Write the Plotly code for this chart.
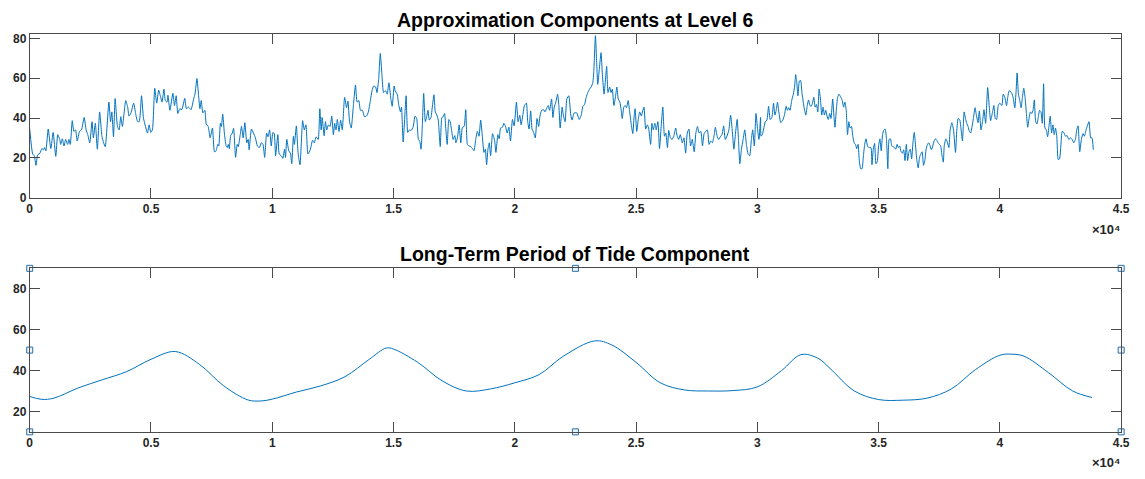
import plotly.graph_objects as go

# ---------------- Top series: approximation components (level 6) ----------------
seg1_x = [0, 122, 190, 258, 326, 422, 503, 571, 612, 666, 762, 870, 966, 1074, 1156, 1238, 1278, 1346, 1414, 1482,
          1564, 1618, 1673, 1754, 1822, 1890, 1958, 2054, 2135, 2244, 2326, 2394, 2475, 2570, 2625, 2706, 2788, 2883,
          2978, 3046, 3114, 3264, 3332, 3386, 3454, 3522, 3618, 3686, 3754, 3822, 3958, 4039, 4094, 4175, 4284, 4366,
          4447, 4515, 4610, 4692, 4774, 4855, 4923, 4991, 5059, 5154, 5236, 5318, 5399, 5454, 5535, 5590, 5658, 5698,
          5780, 5902, 5970, 6038, 6106, 6188, 6270, 6392, 6460, 6542, 6650, 6759, 6814, 6895, 6963, 7018, 7072, 7140,
          7222, 7276, 7358, 7439]
seg1_y = [34.5, 22.0, 21.1, 16.3, 21.5, 22.4, 24.7, 24.1, 25.2, 23.6, 34.5, 24.7, 32.8, 20.8, 31.7, 29.3, 26.8, 29.6, 26.0, 29.3,
          26.8, 29.3, 26.8, 38.7, 33.3, 34.1, 28.5, 33.3, 34.1, 40.3, 34.1, 31.7, 27.6, 38.2, 30.1, 37.4, 24.4, 43.1,
          30.9, 27.6, 25.7, 48.0, 38.2, 43.1, 30.6, 49.8, 35.8, 34.1, 40.7, 35.8, 48.8, 45.5, 41.0, 42.6, 47.5, 42.3,
          38.2, 38.2, 51.2, 39.8, 35.8, 32.5, 36.6, 32.8, 34.1, 55.0, 47.5, 54.0, 50.4, 48.0, 54.5, 48.8, 48.0, 51.5,
          43.9, 52.4, 46.3, 51.2, 42.3, 44.7, 44.2, 49.9, 44.7, 45.5, 44.2, 49.6, 52.0, 59.8, 51.2, 44.7, 48.8, 42.6,
          43.9, 37.1, 35.8, 30.1]

seg2_x = [7535, 7617, 7685, 7753, 7794, 7862, 7903, 7957, 8025, 8093, 8148, 8189, 8229, 8284, 8352, 8406, 8488, 8556,
          8597, 8679, 8731, 8801, 8870, 8951, 9006, 9047, 9142, 9224, 9305, 9387, 9469, 9551, 9619, 9687, 9768, 9823,
          9891, 9959, 10027, 10082, 10136, 10232, 10286, 10368, 10436, 10504, 10545, 10599, 10681, 10749, 10804, 10872,
          10913, 10994, 11062, 11144, 11253, 11321, 11389, 11471, 11566, 11662, 11730, 11811, 11893, 11961, 12016,
          12057, 12138, 12193, 12247, 12315, 12384, 12452, 12520, 12574, 12629, 12683, 12751, 12819, 12887, 12983,
          13065, 13119, 13187, 13255, 13351, 13432, 13500, 13568, 13637, 13718, 13800, 13882, 13963, 14045, 14113,
          14181, 14263, 14318, 14386, 14454, 14522, 14590, 14672, 14740, 14808, 14890, 14944, 15026]
seg2_y = [35.0, 23.1, 23.6, 26.8, 26.0, 37.4, 35.8, 42.0, 32.5, 26.3, 25.2, 26.8, 24.7, 31.2, 32.5, 34.8, 20.3, 26.8,
          25.7, 31.7, 35.8, 30.1, 37.7, 27.6, 29.3, 24.1, 34.5, 32.5, 30.1, 26.0, 25.2, 27.6, 26.8, 20.3, 32.5, 30.6,
          34.1, 26.0, 32.8, 32.2, 21.1, 31.7, 22.0, 21.1, 19.8, 24.4, 20.3, 29.3, 23.6, 22.4, 17.1, 30.9,
          26.8, 36.1, 22.8, 16.6, 38.7, 34.1, 36.6, 22.0, 24.1, 28.9, 27.6, 30.6, 29.3, 44.7, 34.1,
          40.3, 31.2, 38.2, 34.1, 36.6, 35.8, 41.0, 31.7, 37.4, 34.1, 39.3, 33.3, 39.0, 34.1, 50.4,
          45.2, 48.5, 38.2, 35.0, 47.2, 56.6, 48.0, 48.8, 43.9, 43.9, 40.7, 41.0, 43.1, 48.8, 53.7,
          56.1, 55.6, 52.8, 59.3, 72.4, 61.8, 52.8, 53.7, 52.0, 57.7, 49.6, 45.9, 56.1]

seg3_x = [15068, 15150, 15219, 15287, 15328, 15396, 15478, 15519, 15587, 15656, 15724, 15806, 15888, 15956, 16025,
          16079, 16134, 16188, 16243, 16311, 16380, 16421, 16475, 16544, 16598, 16667, 16721, 16789, 16844, 16926,
          16994, 17049, 17104, 17158, 17213, 17281, 17336, 17391, 17459, 17527, 17568, 17636, 17705, 17773, 17841,
          17910, 17978, 18046, 18114, 18183, 18251, 18319, 18388, 18456, 18524, 18593, 18661, 18729, 18784, 18838,
          18893, 18948, 19002, 19084, 19166, 19221, 19303, 19358, 19412, 19494, 19549, 19617, 19685, 19754, 19822,
          19904, 19972, 20068, 20136, 20204, 20259, 20341, 20396, 20478, 20532, 20587, 20655, 20710, 20778, 20846,
          20915, 20983, 21038, 21106, 21188, 21243, 21325, 21379, 21434, 21516, 21570, 21625, 21693, 21762, 21816,
          21871, 21953, 22008, 22076, 22144, 22226, 22308, 22363, 22445, 22554, 22622]
seg3_y = [53.7, 52.0, 46.3, 43.1, 45.5, 28.0, 43.9, 51.2, 32.8, 34.1, 33.8, 35.4, 41.0, 39.8, 29.3,
          28.5, 24.4, 36.6, 52.4, 38.2, 41.5, 43.9, 39.0, 40.3, 45.5, 51.7, 43.1, 41.5, 39.0, 25.7,
          40.3, 40.7, 42.3, 34.1, 26.8, 39.3, 38.2, 34.1, 29.3, 31.2, 27.6, 30.1, 36.6, 27.6, 35.4,
          35.8, 44.2, 26.8, 26.0, 25.7, 24.7, 23.6, 29.3, 33.3, 30.9, 39.0, 30.9, 22.8, 24.4, 16.6,
          24.4, 27.6, 21.1, 32.2, 28.9, 22.8, 31.7, 29.6, 35.0, 35.4, 37.4, 35.8, 32.5, 35.4, 28.5,
          39.3, 36.1, 48.0, 38.2, 41.5, 36.6, 42.3, 46.3, 47.5, 38.2, 34.5, 43.6, 34.5, 32.8, 30.1,
          39.8, 35.8, 41.0, 43.9, 44.2, 43.1, 45.2, 46.3, 43.9, 49.6, 40.3, 45.5, 48.0, 52.0, 46.3,
          35.0, 45.5, 41.0, 38.2, 49.6, 51.2, 41.5, 39.0, 42.6, 42.6, 40.3]

seg4_x = [22657, 22739, 22807, 22875, 22943, 23011, 23080, 23148, 23216, 23257, 23325, 23379, 23420, 23488, 23556,
          23611, 23679, 23733, 23788, 23842, 23910, 23965, 24019, 24087, 24156, 24210, 24264, 24333, 24387, 24428,
          24496, 24551, 24605, 24673, 24728, 24796, 24864, 24918, 24959, 25027, 25095, 25150, 25218, 25272, 25327,
          25395, 25463, 25518, 25599, 25654, 25708, 25776, 25831, 25899, 25967, 26035, 26103, 26171, 26226, 26294,
          26348, 26416, 26485, 26553, 26634, 26689, 26757, 26825, 26907, 26975, 27043, 27111, 27179, 27247, 27315,
          27397, 27465, 27533, 27601, 27670, 27738, 27806, 27874, 27942, 28010, 28078, 28146, 28215, 28269, 28337,
          28405, 28473, 28541, 28610, 28678, 28746, 28828, 28896, 28964, 29032, 29100, 29168, 29222, 29277, 29345,
          29413, 29481, 29549, 29617, 29685, 29754, 29808, 29876, 29944, 30012, 30066, 30135]
seg4_y = [39.3, 41.5, 45.9, 46.8, 50.4, 52.8, 54.5, 55.6, 57.7, 63.4, 81.3, 66.7, 56.9, 65.0, 72.8,
          61.8, 52.0, 58.5, 65.9, 52.8, 55.6, 52.8, 54.5, 46.3, 51.2, 55.6, 49.6, 48.0, 43.9, 39.8,
          45.5, 46.3, 45.2, 48.8, 43.9, 37.4, 32.2, 40.7, 44.7, 33.3, 39.8, 43.1, 41.0, 43.6, 45.5,
          34.5, 36.6, 35.0, 26.8, 37.4, 34.1, 37.4, 34.1, 38.2, 24.7, 35.8, 45.5, 30.9, 32.5, 25.2,
          33.8, 30.1, 29.3, 30.9, 35.0, 31.2, 29.3, 31.7, 27.6, 30.1, 22.4, 32.5, 34.5, 26.0, 29.3,
          23.1, 32.5, 35.8, 32.5, 33.3, 26.0, 32.2, 33.3, 34.1, 26.8, 28.5, 27.6, 31.2, 35.4, 31.2,
          29.3, 30.6, 31.7, 36.1, 29.3, 30.9, 34.1, 41.5, 34.1, 24.4, 32.5, 39.3, 29.3, 17.1, 24.4,
          29.3, 34.1, 26.8, 22.0, 21.1, 29.3, 34.1, 26.0, 42.3, 34.1, 29.3, 40.3]

seg5_x = [30150, 30204, 30259, 30327, 30395, 30463, 30531, 30599, 30667, 30722, 30776, 30831, 30885, 30967, 31049,
          31117, 31185, 31239, 31294, 31348, 31416, 31485, 31539, 31580, 31621, 31675, 31730, 31784, 31839, 31893,
          31948, 32002, 32057, 32111, 32166, 32220, 32275, 32329, 32384, 32438, 32492, 32547, 32601, 32656, 32710,
          32765, 32819, 32874, 32928, 32983, 33037, 33105, 33160, 33201, 33255, 33310, 33364, 33432, 33500, 33555,
          33609, 33664, 33718, 33773, 33827, 33882, 33936, 33991, 34045, 34100, 34154, 34209, 34263, 34318, 34372,
          34427, 34481, 34549, 34617, 34685, 34726, 34780, 34835, 34890, 34944, 34999, 35053, 35108, 35162, 35216,
          35271, 35325, 35380, 35434, 35489, 35543, 35598, 35652, 35707, 35761, 35816, 35870, 35925, 35979, 36034,
          36088, 36143, 36197, 36252, 36306, 36361, 36415, 36470, 36524, 36578, 36633, 36687, 36742, 36796, 36851,
          36905, 36960, 37014, 37069, 37123, 37178, 37232, 37287, 37341, 37396, 37450, 37505, 37559, 37614, 37668]
seg5_y = [30.9, 31.7, 34.5, 38.2, 39.0, 45.9, 39.3, 40.3, 47.5, 41.5, 43.9, 48.0, 43.1, 37.7, 39.0,
          41.5, 45.9, 43.9, 45.2, 43.9, 48.8, 52.0, 56.1, 61.8, 58.5, 51.2, 58.5, 58.9, 52.8, 48.0,
          43.9, 41.5, 46.3, 49.1, 46.3, 45.9, 47.5, 50.4, 45.5, 46.8, 43.1, 54.5, 49.6, 41.5, 45.5,
          41.5, 43.9, 41.0, 39.3, 42.3, 39.8, 49.6, 40.7, 35.4, 43.9, 50.4, 52.0, 50.7, 48.8, 45.5,
          48.0, 43.9, 31.7, 38.2, 35.0, 35.8, 30.9, 27.6, 26.8, 24.7, 26.8, 17.9, 14.6, 14.6, 21.1,
          26.8, 29.6, 25.7, 25.2, 25.2, 16.6, 24.4, 27.3, 17.1, 18.2, 26.0, 29.6, 23.6, 31.7, 34.1,
          34.5, 29.3, 14.6, 29.3, 29.6, 26.0, 25.7, 25.2, 24.4, 26.8, 25.2, 26.0, 23.1, 22.4, 24.1,
          18.7, 26.8, 18.7, 23.1, 24.4, 19.5, 27.6, 32.8, 26.0, 18.7, 15.0, 20.3, 22.0, 23.1, 16.3,
          18.7, 24.4, 26.8, 27.6, 26.0, 24.1, 26.0, 28.5, 29.6, 28.9, 27.6, 26.8, 26.0, 21.1, 17.9]

seg6_x = [37705, 37773, 37842, 37896, 37951, 38019, 38088, 38170, 38225, 38279, 38347, 38402, 38457, 38525, 38580,
          38634, 38689, 38743, 38798, 38853, 38907, 38976, 39030, 39098, 39153, 39221, 39290, 39344, 39413, 39495,
          39563, 39618, 39686, 39754, 39809, 39863, 39932, 40000, 40082, 40137, 40205, 40273, 40328, 40382, 40437,
          40492, 40546, 40615, 40669, 40710, 40765, 40820, 40874, 40929, 40984, 41038, 41093, 41147, 41202, 41257,
          41311, 41366, 41421, 41475, 41530, 41585, 41639, 41694, 41748, 41803, 41858, 41912, 41967, 42022, 42076,
          42131, 42186, 42240, 42295, 42350, 42404, 42459, 42513, 42568, 42636, 42705, 42773, 42841, 42910, 42978,
          43046, 43114, 43169, 43224, 43292, 43360, 43429, 43483, 43552, 43620, 43675, 43743, 43797, 43852]
seg6_y = [26.0, 29.6, 27.6, 25.2, 34.1, 37.7, 34.1, 22.8, 34.1, 39.8, 39.0, 34.1, 28.5, 43.1, 39.8,
          37.4, 35.8, 33.3, 32.5, 35.8, 39.8, 45.2, 41.5, 37.7, 43.6, 34.1, 38.7, 44.2, 37.4, 55.3,
          45.5, 38.7, 42.3, 46.3, 39.8, 39.3, 46.3, 47.5, 46.3, 52.0, 50.4, 46.3, 50.7, 53.7, 53.3,
          52.4, 50.4, 45.2, 53.7, 62.6, 52.0, 48.8, 45.2, 50.4, 55.0, 50.4, 42.3, 35.4, 39.8, 43.1,
          42.3, 43.9, 49.1, 38.2, 37.1, 40.7, 43.9, 43.1, 37.4, 57.2, 35.0, 34.1, 30.6, 35.8, 41.0,
          32.5, 36.6, 31.7, 35.0, 30.1, 19.2, 19.5, 26.0, 33.3, 32.8, 30.9, 31.2, 29.3, 30.1, 29.3,
          27.6, 29.3, 34.1, 36.1, 23.1, 29.3, 32.2, 30.9, 34.1, 36.6, 38.2, 30.1, 30.1, 24.1]

# ---------------- Bottom series: long-term tide component ----------------
tide_x = [0, 500, 1000, 2000, 3000, 4000, 5000, 6000, 7000, 8000, 9000, 9500, 10000, 11000, 12000, 13000, 14000,
          14700, 15000, 16000, 17000, 18000, 19000, 20000, 21000, 22000, 23300, 24000, 25000, 26000, 27000, 28000,
          29000, 30000, 31000, 31800, 32500, 33000, 34000, 35000, 36000, 37000, 38000, 39000, 40000, 40500, 41000,
          42000, 43000, 43800]
tide_y = [27.3, 25.9, 26.5, 31.5, 35.5, 39.5, 45.5, 49.3, 43.0, 32.5, 25.6, 25.1, 26.0, 29.5, 32.5, 37.0, 45.5,
          51.0, 50.5, 44.0, 35.0, 30.0, 31.0, 34.0, 38.0, 47.0, 54.5, 52.5, 44.0, 34.0, 30.5, 30.0,
          30.2, 32.0, 40.0, 47.8, 46.0, 41.0, 30.0, 25.8, 25.5, 26.5, 31.0, 40.5, 47.5, 48.0, 47.0,
          39.0, 30.0, 26.8]

# selection handles on the lower axes
handle_x = [0, 0, 0, 22500, 22500, 45000, 45000, 45000]
handle_y = [10, 50, 90, 10, 90, 10, 50, 90]

x_ticks = [0, 5000, 10000, 15000, 20000, 25000, 30000, 35000, 40000, 45000]
x_labels = ["0", "0.5", "1", "1.5", "2", "2.5", "3", "3.5", "4", "4.5"]
top_yticks = [0, 20, 40, 60, 80]
bot_yticks = [20, 40, 60, 80]

top_x = seg1_x + seg2_x + seg3_x + seg4_x + seg5_x + seg6_x
top_y = seg1_y + seg2_y + seg3_y + seg4_y + seg5_y + seg6_y
assert len(top_x) == len(top_y), (len(top_x), len(top_y))

W, H = 1145, 479
LINE = '#0072BD'
AX = '#4a4a4a'
TXT = '#262626'
FONT = 'Liberation Sans, Arial, sans-serif'

fig = go.Figure()
fig.add_trace(go.Scatter(x=top_x, y=top_y, mode='lines',
                         line=dict(color=LINE, width=1, shape='spline', smoothing=0.5),
                         xaxis='x', yaxis='y', hoverinfo='skip'))
fig.add_trace(go.Scatter(x=tide_x, y=tide_y, mode='lines',
                         line=dict(color=LINE, width=1, shape='spline', smoothing=1.0),
                         xaxis='x2', yaxis='y2', hoverinfo='skip'))
fig.add_trace(go.Scatter(x=handle_x, y=handle_y, mode='markers', cliponaxis=False,
                         marker=dict(symbol='square', size=6, color='#eef4fa',
                                     line=dict(color='#2a6fa8', width=1)),
                         xaxis='x2', yaxis='y2', hoverinfo='skip'))

xdom = [27 / W, 1130 / W]
tickfont = dict(family=FONT, size=12, color=TXT, weight='bold')
common = dict(showline=True, linecolor=AX, linewidth=1, mirror='ticks', ticks='inside',
              ticklen=10, tickcolor=AX, tickwidth=1, showgrid=False, zeroline=False,
              tickfont=tickfont)

fig.update_layout(
    width=W, height=H, margin=dict(l=0, r=0, t=0, b=0),
    paper_bgcolor='white', plot_bgcolor='white', showlegend=False,
    xaxis=dict(domain=xdom, range=[0, 45000], tickvals=x_ticks, ticktext=x_labels, anchor='y', **common),
    yaxis=dict(domain=[1 - 199 / H, 1 - 32 / H], range=[0, 82], tickvals=top_yticks, anchor='x', **common),
    xaxis2=dict(domain=xdom, range=[0, 45000], tickvals=x_ticks, ticktext=x_labels, anchor='y2', **common),
    yaxis2=dict(domain=[1 - 438 / H, 1 - 271 / H], range=[10, 90], tickvals=bot_yticks, anchor='x2', **common),
)

title_font = dict(family=FONT, size=19.5, color='black', weight='bold')
xc = (27 + 1130) / 2 / W
fig.add_annotation(text='Approximation Components at Level 6', xref='paper', yref='paper',
                   x=xc, y=1 - 17 / H, xanchor='center', yanchor='middle', showarrow=False, font=title_font)
fig.add_annotation(text='Long-Term Period of Tide Component', xref='paper', yref='paper',
                   x=xc, y=1 - 256 / H, xanchor='center', yanchor='middle', showarrow=False, font=title_font)

exp_font = dict(family=FONT, size=13, color=TXT, weight='bold')
for yy in (231, 469):
    fig.add_annotation(text='\u00d710\u2074', xref='paper', yref='paper',
                       x=1131 / W, y=1 - yy / H, xanchor='right', yanchor='middle',
                       showarrow=False, font=exp_font)

fig.write_html('out.html')
